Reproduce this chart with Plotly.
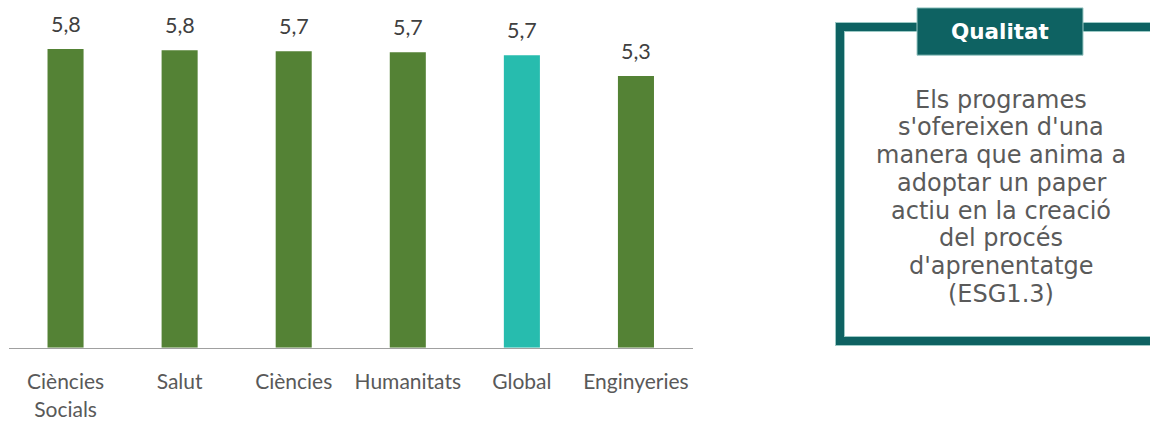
import plotly.graph_objects as go

# ---- data ----
categories = ["Ciències<br>Socials", "Salut", "Ciències", "Humanitats", "Global", "Enginyeries"]
values = [5.78, 5.76, 5.74, 5.72, 5.66, 5.26]
highlight = "Global"

box_title = "Qualitat"
box_lines = ["Els programes", "s'ofereixen d'una", "manera que anima a",
             "adoptar un paper", "actiu en la creació", "del procés",
             "d'aprenentatge", "(ESG1.3)"]

# ---- style ----
W, H = 1150, 421
GREEN = "#548235"
TEAL = "#27BCAE"
DARK_TEAL = "#0E6262"
EDGE = "#9cc9c5"

def px(x):
    return x / W

def py(y):
    return 1 - y / H

colors = [TEAL if c == highlight else GREEN for c in categories]

fig = go.Figure()
fig.add_trace(go.Bar(x=categories, y=values, marker=dict(color=colors, line=dict(width=0)),
                     hoverinfo="skip"))

annotations = []
for c, v in zip(categories, values):
    annotations.append(dict(x=c, y=v, xref="x", yref="y", text=f"{v:.1f}".replace(".", ","),
                            showarrow=False, yanchor="middle", yshift=25,
                            font=dict(family="Lato", size=21.5, color="#404040")))

# box text
start, step = 101, 28.14
for i, line in enumerate(box_lines):
    annotations.append(dict(x=px(1001), y=py(start + i * step), xref="paper", yref="paper",
                            text=line, showarrow=False, xanchor="center", yanchor="middle",
                            font=dict(family="DejaVu Sans", size=24, color="#5a5a5a")))
annotations.append(dict(x=px(1000), y=py(31.5), xref="paper", yref="paper", text=box_title,
                        showarrow=False, xanchor="center", yanchor="middle",
                        font=dict(family="DejaVu Sans", size=21.5, color="white", weight="bold")))

shapes = []
# outer frame (light edge, then dark)
for lw, col in ((10, EDGE), (8, DARK_TEAL)):
    shapes.append(dict(type="rect", xref="paper", yref="paper",
                       x0=px(840), x1=px(1175), y0=py(346), y1=py(27.5),
                       line=dict(color=col, width=lw), fillcolor="rgba(0,0,0,0)", layer="above"))
# title box
shapes.append(dict(type="rect", xref="paper", yref="paper",
                   x0=px(917), x1=px(1083), y0=py(56), y1=py(8),
                   line=dict(color=EDGE, width=1), fillcolor=DARK_TEAL, layer="above"))

baseline_px = 352.7
unit_px = 52.4
fig.update_layout(
    width=W, height=H,
    margin=dict(l=0, r=0, t=0, b=0),
    paper_bgcolor="white", plot_bgcolor="white",
    showlegend=False,
    bargap=0.684,
    xaxis=dict(domain=[px(8.5), px(693)], showline=True, linecolor="#A0A0A0", linewidth=1.5,
               ticks="", showgrid=False, zeroline=False, ticklabelstandoff=15,
               tickfont=dict(family="Lato", size=21, color="#595959")),
    yaxis=dict(domain=[1 - baseline_px / H, 1], range=[0, baseline_px / unit_px],
               visible=False, showgrid=False, zeroline=False),
    annotations=annotations,
    shapes=shapes,
)

post = (
    "document.documentElement.style.margin='0';"
    "document.body.style.margin='0';document.body.style.padding='0';"
    "document.body.style.overflow='hidden';document.documentElement.style.overflow='hidden';"
    "var d=document.getElementById('{plot_id}');"
    "d.style.position='fixed';d.style.top='0px';d.style.left='0px';"
    "d.style.overflow='hidden';d.style.height='421px';d.style.width='1150px';"
    "var s=d.querySelectorAll('svg');for(var i=0;i<s.length;i++){s[i].style.overflow='hidden';}"
)
fig.write_html("out.html", config={"displayModeBar": False, "staticPlot": True},
               post_script=post)
